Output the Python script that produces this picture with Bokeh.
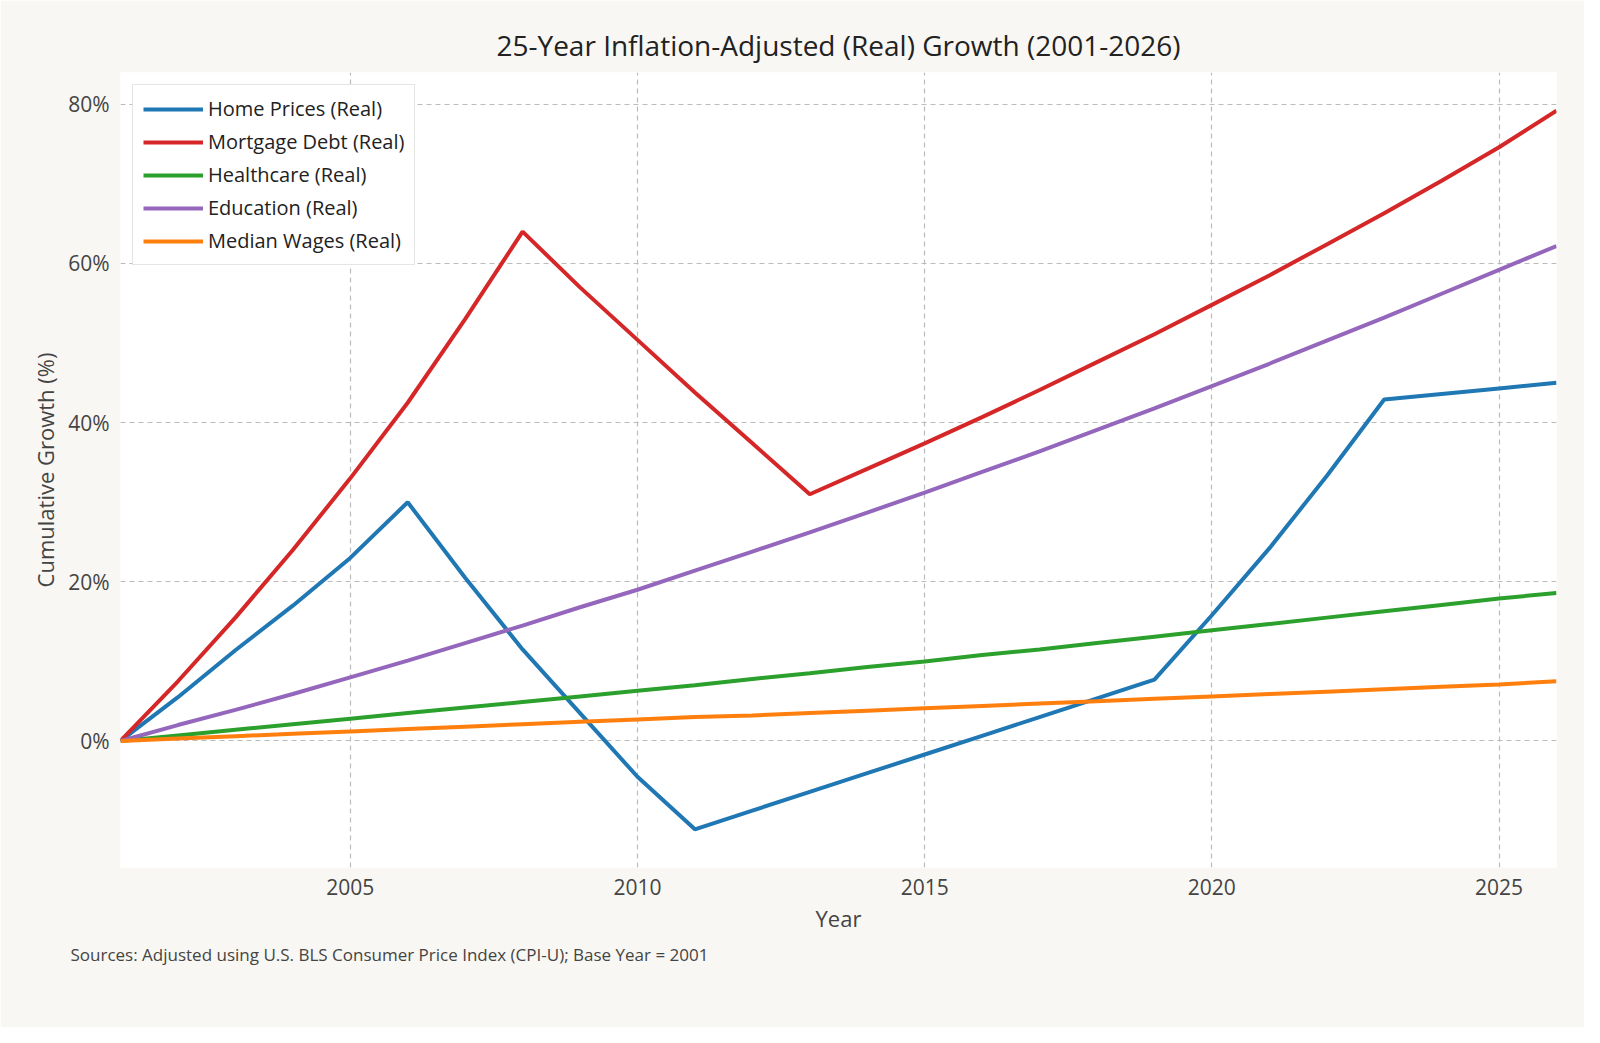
from bokeh.plotting import figure
from bokeh.models import Title, Legend, LegendItem, FixedTicker, Range1d, CustomJSTickFormatter
from bokeh.embed import file_html
from bokeh.resources import INLINE

years = list(range(2001, 2027))
home = [0, 5.5, 11.4, 17, 23, 30, 20.5, 11.5, 3.5, -4.5, -11.1, -8.75, -6.4, -4.05, -1.7, 0.65, 3.0, 5.35, 7.7, 15.8, 24.2, 33.3, 42.9, 43.6, 44.3, 45.0]
mortgage = [0, 7.5, 15.5, 24, 33, 42.5, 53, 64, 57.0, 50.4, 43.8, 37.4, 31, 34.2, 37.4, 40.7, 44.1, 47.6, 51.1, 54.8, 58.5, 62.4, 66.3, 70.4, 74.6, 79.2]
health = [0, 0.7, 1.4, 2.1, 2.8, 3.5, 4.2, 4.9, 5.6, 6.3, 7.0, 7.8, 8.5, 9.3, 10.0, 10.8, 11.5, 12.3, 13.1, 13.9, 14.7, 15.5, 16.3, 17.1, 17.9, 18.6]
educ = [0, 2, 3.9, 5.9, 8, 10.1, 12.3, 14.5, 16.8, 19, 21.4, 23.8, 26.2, 28.7, 31.2, 33.8, 36.4, 39.1, 41.8, 44.6, 47.4, 50.3, 53.2, 56.2, 59.2, 62.2]
wages = [0, 0.3, 0.6, 0.9, 1.2, 1.5, 1.8, 2.1, 2.4, 2.7, 3.0, 3.2, 3.5, 3.8, 4.1, 4.4, 4.7, 5.0, 5.3, 5.6, 5.9, 6.2, 6.5, 6.8, 7.1, 7.5]
names = ["Home Prices (Real)", "Mortgage Debt (Real)", "Healthcare (Real)", "Education (Real)", "Median Wages (Real)"]
colors = ["#1f77b4", "#d62728", "#2ca02c", "#9467bd", "#ff7f0e"]
series = [home, mortgage, health, educ, wages]
FONT = "Open Sans"

p = figure(width=1584, height=1027, output_backend="svg", toolbar_location=None,
           x_range=Range1d(2001, 2026), y_range=Range1d(-15.9, 84),
           min_border_left=120, min_border_right=28, min_border_top=72, min_border_bottom=160)
p.background_fill_color = "white"
p.border_fill_color = "#f8f7f3"
p.outline_line_color = None
p.title.text = "25-Year Inflation-Adjusted (Real) Growth (2001-2026)"
p.title.align = "center"
p.title.text_font = FONT
p.title.text_font_size = "28px"
p.title.text_font_style = "normal"
p.title.text_color = "#222222"
p.title.standoff = 18

items = []
for s, n, c in zip(series, names, colors):
    r = p.line(years, s, line_color=c, line_width=4)
    items.append(LegendItem(label=n, renderers=[r]))

p.yaxis.ticker = FixedTicker(ticks=[0, 20, 40, 60, 80])
p.yaxis.formatter = CustomJSTickFormatter(code="return tick + '%'")
p.xaxis.ticker = FixedTicker(ticks=[2005, 2010, 2015, 2020, 2025])
for ax in (p.xaxis[0], p.yaxis[0]):
    ax.axis_line_color = None
    ax.major_tick_line_color = None
    ax.minor_tick_line_color = None
    ax.major_label_text_font = FONT
    ax.major_label_text_font_size = "21px"
    ax.major_label_text_color = "#444444"
    ax.axis_label_text_font = FONT
    ax.axis_label_text_font_size = "22px"
    ax.axis_label_text_font_style = "normal"
    ax.axis_label_text_color = "#444444"
p.xaxis.axis_label = "Year"
p.yaxis.axis_label = "Cumulative Growth (%)"
p.grid.grid_line_color = "#bbbbbb"
p.grid.grid_line_dash = "5 4"
p.grid.grid_line_width = 1.2

leg = Legend(items=items, location="top_left", label_text_font=FONT, label_text_font_size="20px",
             label_text_color="#222222", glyph_width=60, spacing=6, padding=10,
             border_line_color="#cccccc", margin=12, label_height=26)
p.add_layout(leg)

foot = Title(text="Sources: Adjusted using U.S. BLS Consumer Price Index (CPI-U); Base Year = 2001",
             align="left", text_font=FONT, text_font_size="17px", text_font_style="normal",
             text_color="#444444", offset=-50)
p.add_layout(foot, "below")

open("out.html", "w").write(file_html(p, INLINE))
